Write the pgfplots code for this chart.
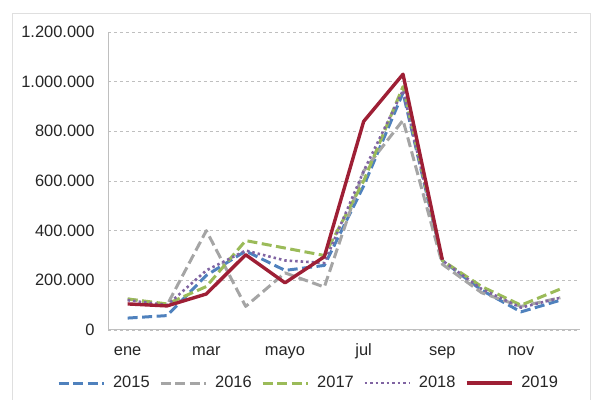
\documentclass[border=0pt]{standalone}
\usepackage{pgfplots}
\pgfplotsset{compat=1.18}
\usepackage{fontspec}
\setmainfont{Liberation Sans}
\definecolor{c15}{HTML}{4F81BD}
\definecolor{c16}{HTML}{A5A5A5}
\definecolor{c17}{HTML}{9BBB59}
\definecolor{c18}{HTML}{8064A2}
\definecolor{c19}{HTML}{9E1F35}
\definecolor{gridc}{HTML}{BFBFBF}
\begin{document}
\begin{tikzpicture}
\useasboundingbox (0,0) rectangle (593bp,400bp);
\draw[gray!25, line width=0.8bp] (12bp,0bp) -- (12bp,387bp) -- (590bp,387bp) -- (590bp,0bp);
\begin{axis}[
  at={(108bp,70bp)}, anchor=south west,
  scale only axis, width=472bp, height=298bp,
  xmin=0.5, xmax=12.5, ymin=0, ymax=1200000,
  xtick={1,3,5,7,9,11},
  xticklabels={ene,mar,mayo,jul,sep,nov},
  ytick={0,200000,400000,600000,800000,1000000,1200000},
  yticklabels={0,200.000,400.000,600.000,800.000,1.000.000,1.200.000},
  scaled y ticks=false,
  axis x line*=bottom, axis y line*=left,
  axis line style={gridc, line width=1bp},
  x axis line style={-}, y axis line style={-},
  major tick length=0pt,
  ymajorgrids, grid style={gridc, dashed, line width=0.6bp},
  tick label style={font=\fontsize{16.5}{19}\selectfont, text=black!85},
  yticklabel style={xshift=-10bp},
  xticklabel style={anchor=base, yshift=-26bp},
  legend columns=5,
  legend style={at={(0.4248,0)}, anchor=center, yshift=-53bp, draw=none,
    font=\fontsize{16.5}{19}\selectfont, text=black!85,
    /tikz/every odd column/.append style={column sep=6bp},
    /tikz/every even column/.append style={column sep=7.5bp},
    nodes={inner sep=2bp}},
  legend image code/.code={\draw[#1] (0bp,0bp) -- (45bp,0bp);},
  every axis plot/.append style={line width=3bp, line join=round},
]
\addplot[c15, dash pattern=on 10bp off 4.5bp] coordinates {(1,48000)(2,58000)(3,220000)(4,318000)(5,240000)(6,260000)(7,580000)(8,955000)(9,280000)(10,160000)(11,73000)(12,120000)};
\addlegendentry{2015}
\addplot[c16, dash pattern=on 10bp off 4.5bp] coordinates {(1,125000)(2,100000)(3,400000)(4,95000)(5,230000)(6,173000)(7,640000)(8,845000)(9,265000)(10,150000)(11,95000)(12,130000)};
\addlegendentry{2016}
\addplot[c17, dash pattern=on 10bp off 4.5bp] coordinates {(1,125000)(2,105000)(3,175000)(4,360000)(5,330000)(6,300000)(7,600000)(8,980000)(9,280000)(10,175000)(11,100000)(12,165000)};
\addlegendentry{2017}
\addplot[c18, dash pattern=on 2.5bp off 3bp, line width=2.6bp] coordinates {(1,120000)(2,100000)(3,240000)(4,320000)(5,280000)(6,270000)(7,640000)(8,965000)(9,280000)(10,165000)(11,90000)(12,130000)};
\addlegendentry{2018}
\addplot[c19, line width=3.4bp] coordinates {(1,105000)(2,97000)(3,145000)(4,303000)(5,190000)(6,295000)(7,840000)(8,1030000)(9,283000)};
\addlegendentry{2019}
\end{axis}
\end{tikzpicture}
\end{document}
